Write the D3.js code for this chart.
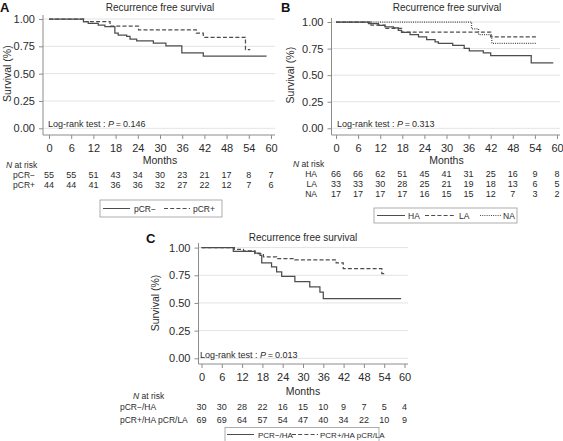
<!DOCTYPE html>
<html><head><meta charset="utf-8">
<script src="https://cdn.jsdelivr.net/npm/d3@7"></script>
<style>
html,body{margin:0;padding:0;background:#fff;}
svg{display:block;font-family:"Liberation Sans",Arial,sans-serif;}
</style></head>
<body><svg id="c" width="563" height="441"></svg>
<script>
// ---- data ----
const monthTicks = [0,6,12,18,24,30,36,42,48,54,60];
const survTicks = [0,0.25,0.5,0.75,1];
const survTickLabels = ["0.00","0.25","0.50","0.75","1.00"];

// Panel A
const aSeriesNames = ["pCR\u2212","pCR+"];
const aPcrNeg = [[0,1],[9.3,0.975],[10.6,0.96],[13.3,0.945],[15.1,0.93],[17.8,0.87],[18.7,0.853],[21,0.84],[21.9,0.815],[23.7,0.80],[28.2,0.78],[31.6,0.753],[35.9,0.69],[41.7,0.66],[58.8,0.66]];
const aPcrPos = [[0,1],[9.4,0.977],[16.5,0.935],[24.2,0.90],[39.8,0.87],[41.7,0.833],[53.1,0.72],[54.4,0.72]];
const aRiskNeg = [55,55,51,43,34,30,23,21,17,8,7];
const aRiskPos = [44,44,41,36,36,32,27,22,12,7,6];
const aP = "0.146";

// Panel B
const bSeriesNames = ["HA","LA","NA"];
const bHA = [[0,1],[8.8,0.984],[11.5,0.969],[13.3,0.953],[15.6,0.944],[16.9,0.922],[17.8,0.903],[20.1,0.881],[22.4,0.859],[24.6,0.834],[26.9,0.813],[27.8,0.80],[31.7,0.78],[34.8,0.753],[36.2,0.728],[40,0.709],[42,0.684],[53,0.616],[59,0.616]];
const bLA = [[0,1],[9.5,0.97],[13.3,0.939],[17.8,0.905],[42,0.86],[54.5,0.86]];
const bNA = [[0,1],[36.8,0.935],[38.7,0.882],[42.3,0.80],[54.5,0.80]];
const bRiskHA = [66,66,62,51,45,41,31,25,16,9,8];
const bRiskLA = [33,33,30,28,25,21,19,18,13,6,5];
const bRiskNA = [17,17,17,17,16,15,15,12,7,3,2];
const bP = "0.313";

// Panel C
const cSeriesNames = ["pCR\u2212/HA","pCR+/HA pCR/LA"];
const cLegendNames = ["PCR\u2212/HA","PCR+/HA pCR/LA"];
const cNeg = [[0,1],[9.4,0.967],[15.8,0.95],[17.3,0.93],[17.8,0.863],[20.7,0.825],[22.2,0.78],[23.7,0.74],[27.6,0.693],[32,0.645],[35,0.598],[36,0.54],[59,0.54]];
const cPos = [[0,1],[9.7,0.985],[12.4,0.97],[15.8,0.945],[18.3,0.917],[22.2,0.90],[27.6,0.89],[39.8,0.862],[41.9,0.81],[53.3,0.766],[54.4,0.766]];
const cRiskNeg = [30,30,28,22,16,15,10,9,7,5,4];
const cRiskPos = [69,69,64,57,54,47,40,34,22,10,9];
const cP = "0.013";

// ---- drawing ----
const svg = d3.select("#c");
const TXT = "#2b2b2b", CURVE = "#4d4d4d", AXIS = "#8c8c8c", GRID = "#e3e3e3";
const dashes = {solid:null, dashed:"4,2.2", dotted:"1,1.2"};
const RF = 9; // risk table font

function panel(cfg){
  const g = svg.append("g");
  const x = d3.scaleLinear().domain([0,60]).range([cfg.x0,cfg.x60]);
  const y = d3.scaleLinear().domain([0,1]).range([cfg.y0,cfg.y1]);
  g.selectAll(".grid").data(survTicks).join("line")
    .attr("x1",cfg.axisX).attr("x2",cfg.gridRight)
    .attr("y1",d=>y(d)).attr("y2",d=>y(d))
    .attr("stroke",GRID).attr("stroke-width",1);
  const ya = d3.axisLeft(y).tickValues(survTicks).tickFormat((d,i)=>survTickLabels[i]).tickSize(4).tickPadding(4);
  const yg = g.append("g").attr("transform",`translate(${cfg.axisX},0)`).call(ya);
  yg.select(".domain").attr("d",`M0,${cfg.axisTop}V${cfg.axisY}`).attr("stroke",AXIS);
  yg.selectAll(".tick line").attr("stroke",AXIS);
  yg.selectAll(".tick text").attr("fill",TXT).style("font-size","11px");
  const xa = d3.axisBottom(x).tickValues(monthTicks).tickSize(4).tickPadding(cfg.xPad);
  const xg = g.append("g").attr("transform",`translate(0,${cfg.axisY})`).call(xa);
  xg.select(".domain").attr("d",`M${cfg.axisX},0H${cfg.gridRight}`).attr("stroke",AXIS);
  xg.selectAll(".tick line").attr("stroke",AXIS);
  xg.selectAll(".tick text").attr("fill",TXT).style("font-size","11px");
  const line = d3.line().x(d=>x(d[0])).y(d=>y(d[1])).curve(d3.curveStepAfter);
  cfg.series.forEach(s=>{
    g.append("path").attr("d",line(s.data)).attr("fill","none")
      .attr("stroke",CURVE).attr("stroke-width",1.25)
      .attr("stroke-dasharray",dashes[s.style]);
  });
  g.append("text").attr("x",cfg.titleX).attr("y",cfg.titleY).attr("text-anchor","middle")
    .attr("fill",TXT).style("font-size","10px").text("Recurrence free survival");
  g.append("text").attr("x",cfg.letterX).attr("y",cfg.letterY)
    .attr("fill","#111").style("font-size","13px").style("font-weight","bold").text(cfg.letter);
  g.append("text").attr("transform",`translate(${cfg.ylabX},${(cfg.y0+cfg.y1)/2}) rotate(-90)`)
    .attr("text-anchor","middle").attr("fill",TXT).style("font-size","10.5px").text("Survival (%)");
  const lr = g.append("text").attr("x",cfg.lrX).attr("y",cfg.lrY).attr("fill",TXT).style("font-size","9px");
  lr.append("tspan").text("Log-rank test : ");
  lr.append("tspan").style("font-style","italic").text("P");
  lr.append("tspan").text("\u2009=\u2009"+cfg.p);
  g.append("text").attr("x",x(30)).attr("y",cfg.monthsY).attr("text-anchor","middle")
    .attr("fill",TXT).style("font-size","10.5px").text("Months");
  const nr = g.append("text").attr("x",cfg.nrX).attr("y",cfg.nrY).attr("fill",TXT).style("font-size","8.5px");
  nr.append("tspan").style("font-style","italic").text("N");
  nr.append("tspan").text(" at risk");
  cfg.risk.forEach((r,i)=>{
    g.append("text").attr("x",cfg.rowLabelX).attr("y",cfg.rowY[i]).attr("text-anchor",cfg.rowAnchor)
      .attr("fill",TXT).style("font-size",cfg.rowFs+"px").text(r.name);
    g.selectAll(null).data(r.vals).join("text")
      .attr("x",(d,j)=>x(monthTicks[j])).attr("y",cfg.rowY[i]).attr("text-anchor","middle")
      .attr("fill",TXT).style("font-size",RF+"px").text(d=>d);
  });
  const L = cfg.legend;
  g.append("rect").attr("x",L.x).attr("y",L.y).attr("width",L.w).attr("height",L.h)
    .attr("fill","#fff").attr("stroke","#9a9a9a").attr("stroke-width",0.8);
  L.items.forEach(it=>{
    g.append("line").attr("x1",it.x1).attr("x2",it.x2).attr("y1",L.y+L.ty-3).attr("y2",L.y+L.ty-3)
      .attr("stroke",CURVE).attr("stroke-width",1).attr("stroke-dasharray",dashes[it.style]);
    g.append("text").attr("x",it.tx).attr("y",L.y+L.ty).attr("fill",TXT)
      .style("font-size",L.fs+"px").text(it.name);
  });
}

panel({
  letter:"A", letterX:0, letterY:12,
  x0:49, x60:271, y0:128.3, y1:19, axisX:43, axisTop:15, axisY:135, gridRight:275, xPad:5,
  titleX:160, titleY:11, ylabX:11, lrX:48, lrY:127, p:aP,
  monthsY:163.5, nrX:6, nrY:167.5, rowFs:8.5,
  rowLabelX:35, rowAnchor:"end", rowY:[178,188],
  series:[{data:aPcrNeg,style:"solid"},{data:aPcrPos,style:"dashed"}],
  risk:[{name:aSeriesNames[0],vals:aRiskNeg},{name:aSeriesNames[1],vals:aRiskPos}],
  legend:{x:100,y:200,w:122,h:17,ty:11.5,fs:8.5,items:[
    {x1:103,x2:130,tx:134,name:aSeriesNames[0],style:"solid"},
    {x1:164,x2:190,tx:193,name:aSeriesNames[1],style:"dashed"}]}
});

panel({
  letter:"B", letterX:281, letterY:12,
  x0:336, x60:557, y0:128.3, y1:22, axisX:331.5, axisTop:18, axisY:135, gridRight:560, xPad:5,
  titleX:447, titleY:11, ylabX:294, lrX:337, lrY:127, p:bP,
  monthsY:163.5, nrX:293, nrY:167, rowFs:8.5,
  rowLabelX:317, rowAnchor:"end", rowY:[176.5,186.5,196.5],
  series:[{data:bHA,style:"solid"},{data:bLA,style:"dashed"},{data:bNA,style:"dotted"}],
  risk:[{name:bSeriesNames[0],vals:bRiskHA},{name:bSeriesNames[1],vals:bRiskLA},{name:bSeriesNames[2],vals:bRiskNA}],
  legend:{x:374,y:208,w:143,h:15,ty:10.5,fs:8.5,items:[
    {x1:377,x2:405,tx:408,name:bSeriesNames[0],style:"solid"},
    {x1:425,x2:455,tx:459,name:bSeriesNames[1],style:"dashed"},
    {x1:480,x2:501,tx:503,name:bSeriesNames[2],style:"dotted"}]}
});

panel({
  letter:"C", letterX:146, letterY:243,
  x0:201.5, x60:404.5, y0:358.3, y1:247.6, axisX:198.5, axisTop:243, axisY:364, gridRight:408, xPad:5,
  titleX:303, titleY:241, ylabX:159, lrX:200, lrY:358, p:cP,
  monthsY:395, nrX:133, nrY:398.5, rowFs:8.5,
  rowLabelX:120, rowAnchor:"start", rowY:[410,423],
  series:[{data:cNeg,style:"solid"},{data:cPos,style:"dashed"}],
  risk:[{name:cSeriesNames[0],vals:cRiskNeg},{name:cSeriesNames[1],vals:cRiskPos}],
  legend:{x:225,y:427.5,w:154,h:16,ty:10,fs:8,items:[
    {x1:227,x2:254,tx:258,name:cLegendNames[0],style:"solid"},
    {x1:292,x2:318,tx:320,name:cLegendNames[1],style:"dashed"}]}
});
</script></body></html>
